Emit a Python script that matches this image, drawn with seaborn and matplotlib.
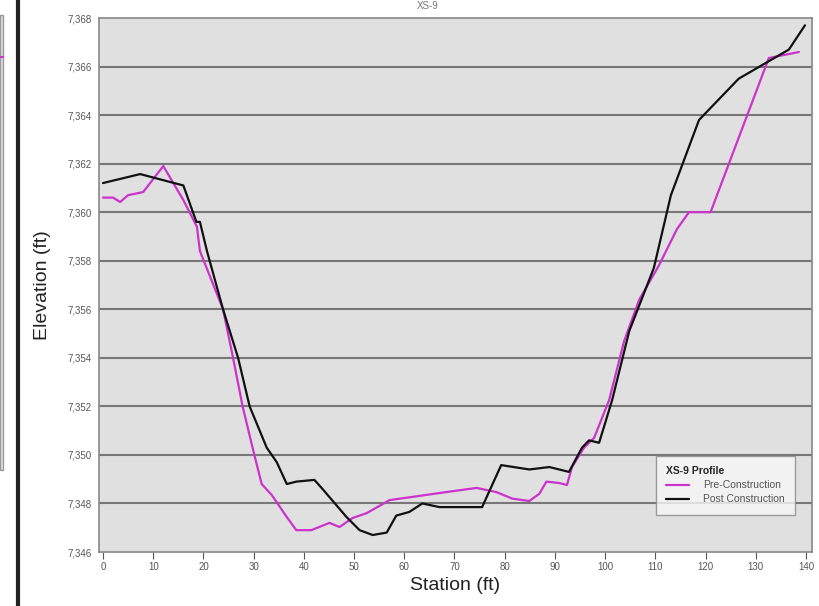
import numpy as np
import pandas as pd
import matplotlib
matplotlib.use('Agg')
import matplotlib.pyplot as plt
import seaborn as sns
from matplotlib.lines import Line2D
from matplotlib.patches import Rectangle

# Données (station en ft, élévation en ft)
station_pre = [0, 2, 3.4, 5, 8, 12, 16, 18.7, 19.3, 23.9, 25.9, 27.8, 29.9, 31.6,
               33.6, 36.6, 38.5, 41.5, 45.1, 47.1, 49.7, 52.5, 57.1, 61.6, 68.4,
               74.4, 78.3, 81.5, 84.9, 86.9, 88.3, 90.9, 92.4, 93.4, 95.8, 97.8,
               100.8, 103.8, 106.8, 110.7, 114.3, 116.7, 121, 132.6, 138.6]
elev_pre = [7360.6, 7360.6, 7360.42, 7360.7, 7360.83, 7361.9, 7360.5, 7359.4,
            7358.4, 7356.0, 7354.0, 7352.0, 7350.2, 7348.8, 7348.35, 7347.44,
            7346.9, 7346.9, 7347.2, 7347.03, 7347.4, 7347.6, 7348.14, 7348.27,
            7348.47, 7348.64, 7348.47, 7348.2, 7348.1, 7348.4, 7348.9, 7348.84,
            7348.76, 7349.5, 7350.3, 7350.7, 7352.26, 7354.7, 7356.4, 7357.8,
            7359.3, 7360.0, 7360.0, 7366.35, 7366.6]

station_post = [0, 7.4, 16, 18.6, 19.3, 20.7, 23.9, 26.9, 29.2, 32.6, 34.6, 36.6,
                38.5, 42.1, 43.7, 48.5, 51.1, 53.7, 56.5, 58.4, 61, 63.6, 67,
                74.4, 75.5, 79.3, 84.9, 88.9, 92.8, 95.4, 96.8, 98.8, 101.4,
                104.8, 109.7, 113.1, 118.7, 126.6, 136.6, 139.8]
elev_post = [7361.2, 7361.57, 7361.1, 7359.6, 7359.6, 7358.4, 7356.0, 7354.0,
             7352.0, 7350.3, 7349.7, 7348.8, 7348.9, 7348.97, 7348.6, 7347.44,
             7346.9, 7346.7, 7346.8, 7347.5, 7347.65, 7348.0, 7347.85, 7347.85,
             7347.85, 7349.58, 7349.4, 7349.5, 7349.3, 7350.3, 7350.6, 7350.5,
             7352.26, 7355.1, 7357.7, 7360.7, 7363.8, 7365.5, 7366.7, 7367.7]

series_names = ['Pre-Construction', 'Post Construction']
x_ticks = list(range(0, 150, 10))
y_ticks = list(range(7346, 7370, 2))

profil = pd.concat([
    pd.DataFrame({'station': station_pre, 'elevation': elev_pre, 'profil': series_names[0]}),
    pd.DataFrame({'station': station_post, 'elevation': elev_post, 'profil': series_names[1]}),
], ignore_index=True)

sns.set_style('white')
plt.rcParams['font.family'] = ['Liberation Sans', 'DejaVu Sans']

fig = plt.figure(figsize=(8.19, 6.06), dpi=100)
W, H = 819, 606
ax = fig.add_axes([99 / W, 1 - 552 / H, (812 - 99) / W, (552 - 18) / H])

sns.lineplot(data=profil, x='station', y='elevation', hue='profil', sort=False,
             palette={series_names[0]: '#cc33cc', series_names[1]: '#111111'},
             linewidth=1.6, estimator=None, ax=ax)

ax.set_facecolor('#e0e0e0')
ax.set_xlim(-0.8, 141.2)
ax.set_ylim(7346, 7368)
ax.set_xticks(x_ticks)
ax.set_yticks(y_ticks)
ax.set_yticklabels([f'{v:,}' for v in y_ticks])
for y in y_ticks[1:-1]:
    ax.axhline(y, color='#777777', lw=1.5, zorder=0.5)
for s in ax.spines.values():
    s.set_color('#888888')
    s.set_linewidth(1.2)
ax.tick_params(axis='x', length=5, direction='out', color='#555555', labelsize=7,
               labelcolor='#555555', pad=2, bottom=True)
ax.tick_params(axis='y', length=0, labelsize=7, labelcolor='#555555', pad=5)
ax.set_xlabel('Station (ft)', fontsize=14, color='#222222', labelpad=4)
ax.set_ylabel('Elevation (ft)', fontsize=14, color='#222222', labelpad=12)

leg = ax.legend(title='XS-9 Profile', loc='lower right', bbox_to_anchor=(0.983, 0.06),
                fontsize=7.5, title_fontsize=7.5, frameon=True, fancybox=False,
                handlelength=2.2, handletextpad=1.3, labelspacing=0.4, borderpad=1.0)
leg.get_title().set_fontweight('bold')
leg._legend_box.align = 'left'
leg.get_frame().set_edgecolor('#888888')
leg.get_frame().set_facecolor('#f7f7f7')
for t in leg.get_texts():
    t.set_color('#555555')

# Reste du graphique voisin à gauche (capture recadrée)
fig.add_artist(Rectangle((0, 1 - 470 / H), 3 / W, (470 - 15) / H,
                         transform=fig.transFigure, facecolor='#e0e0e0',
                         edgecolor='#999999', lw=1))
fig.add_artist(Line2D([0, 3 / W], [1 - 57 / H, 1 - 57 / H], transform=fig.transFigure,
                      color='#cc33cc', lw=1.5))
fig.add_artist(Line2D([18 / W, 18 / W], [0, 1], transform=fig.transFigure,
                      color='#222222', lw=3))

fig.text(428 / W, 0.999, 'XS-9', ha='center', va='top', fontsize=7, color='#777777')

fig.savefig('out.png', dpi=100)
